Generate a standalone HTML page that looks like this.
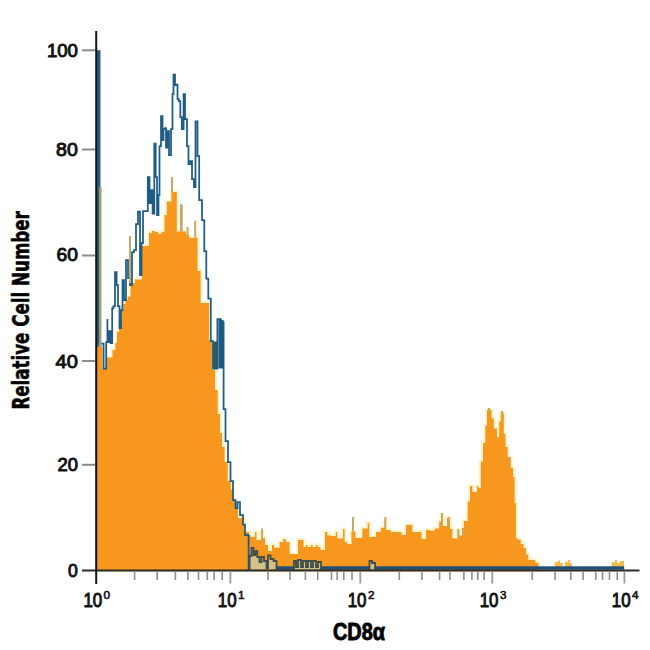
<!DOCTYPE html>
<html><head><meta charset="utf-8"><title>CD8a flow cytometry histogram</title>
<style>html,body{margin:0;padding:0;background:#fff;width:650px;height:650px;overflow:hidden}svg{display:block}</style>
</head><body>
<svg width="650" height="650" viewBox="0 0 650 650">
<rect width="650" height="650" fill="#ffffff"/>
<path d="M97,570.5 L97,347 L102.3,347 L102.3,369 L107,369 L107,357.5 L112.5,357.5 L112.5,350 L115.4,350 L115.4,343 L117,343 L117,332 L119,332 L119,322 L121.5,322 L121.5,310 L123.5,310 L123.5,304 L125.4,304 L125.4,300 L127.7,300 L127.7,296.6 L130.5,296.6 L130.5,283 L135,283 L135,279.5 L142,279.5 L142,246 L149,246 L149,233 L152,233 L152,231 L155,231 L155,232 L158,232 L158,234 L161.4,234 L161.4,232 L164.5,232 L164.5,215 L166.8,215 L166.8,201.5 L171.4,201.5 L171.4,192 L172.6,192 L172.6,192 L176.8,192 L176.8,231.5 L179,231.5 L179,231.5 L183,231.5 L183,231.5 L186,231.5 L186,235 L189,235 L189,238 L193.7,238 L193.7,238 L197.5,238 L197.5,271 L200.6,271 L200.6,303 L209,303 L209,340 L212,340 L212,370 L215,370 L215,390 L217.7,390 L217.7,414 L220,414 L220,433 L222,433 L222,447 L224.6,447 L224.6,462 L227.7,462 L227.7,481 L230.8,481 L230.8,490 L233,490 L233,500 L235.5,500 L235.5,508 L238,508 L238,518 L244,518 L244,532 L249,532 L249,535 L250.4,535 L250.4,537 L255,537 L255,532 L256.5,532 L256.5,540 L261,540 L261,533 L263,533 L263,538 L265,538 L265,545 L268,545 L268,551 L272,551 L272,545 L274,545 L274,547.7 L279.6,547.7 L279.6,542 L283.5,542 L283.5,539 L285.8,539 L285.8,542 L289.6,542 L289.6,554 L298,554 L298,540 L303.5,540 L303.5,547 L306,547 L306,545 L307.5,545 L307.5,547 L311,547 L311,545 L312.5,545 L312.5,547 L316,547 L316,545 L317.5,545 L317.5,547 L320.4,547 L320.4,550 L325,550 L325,532 L327.3,532 L327.3,535.4 L331,535.4 L331,536 L335.8,536 L335.8,532 L337.3,532 L337.3,538.5 L343,538.5 L343,529 L344.6,529 L344.6,542 L347,542 L347,544 L351.5,544 L351.5,531.5 L355.4,531.5 L355.4,538 L362.3,538 L362.3,528.5 L367.7,528.5 L367.7,523 L369.2,523 L369.2,537 L376,537 L376,532 L380.8,532 L380.8,527.7 L384.6,527.7 L384.6,520 L386,520 L386,530 L390.8,530 L390.8,532 L401.5,532 L401.5,535 L406,535 L406,525 L412.3,525 L412.3,532 L421.5,532 L421.5,539 L426,539 L426,530 L430,530 L430,530.8 L434.6,530.8 L434.6,528.5 L439.2,528.5 L439.2,521.5 L441,521.5 L441,515 L443,515 L443,526 L447,526 L447,518 L450,518 L450,529 L452.3,529 L452.3,538.5 L457.7,538.5 L457.7,530 L459,530 L459,535.4 L462.3,535.4 L462.3,529 L463.8,529 L463.8,521 L467.7,521 L467.7,501.5 L470,501.5 L470,486 L472.3,486 L472.3,492 L477,492 L477,486 L478.5,486 L478.5,488 L480.8,488 L480.8,461.5 L483,461.5 L483,443 L485.4,443 L485.4,425.4 L487,425.4 L487,410 L491.5,410 L491.5,418.5 L493.8,418.5 L493.8,428.5 L497,428.5 L497,437 L499.2,437 L499.2,421.5 L500.8,421.5 L500.8,413 L503.8,413 L503.8,434 L505.4,434 L505.4,447 L507.7,447 L507.7,457 L510.8,457 L510.8,467.7 L513,467.7 L513,477 L514.6,477 L514.6,503 L516,503 L516,538.5 L518.5,538.5 L518.5,540 L520.8,540 L520.8,544 L523.5,544 L523.5,548 L526,548 L526,554.4 L528.3,554.4 L528.3,560 L535.3,560 L535.3,563 L538.5,563 L538.5,570.5 Z" fill="#FFF3C8" stroke="#FFF3C8" stroke-width="3.6" stroke-linejoin="miter"/>
<path d="M97,570.5 L97,347 L102.3,347 L102.3,369 L107,369 L107,357.5 L112.5,357.5 L112.5,350 L115.4,350 L115.4,343 L117,343 L117,332 L119,332 L119,322 L121.5,322 L121.5,310 L123.5,310 L123.5,304 L125.4,304 L125.4,300 L127.7,300 L127.7,296.6 L130.5,296.6 L130.5,283 L135,283 L135,279.5 L142,279.5 L142,246 L149,246 L149,233 L152,233 L152,231 L155,231 L155,232 L158,232 L158,234 L161.4,234 L161.4,232 L164.5,232 L164.5,215 L166.8,215 L166.8,201.5 L171.4,201.5 L171.4,192 L172.6,192 L172.6,192 L176.8,192 L176.8,231.5 L179,231.5 L179,231.5 L183,231.5 L183,231.5 L186,231.5 L186,235 L189,235 L189,238 L193.7,238 L193.7,238 L197.5,238 L197.5,271 L200.6,271 L200.6,303 L209,303 L209,340 L212,340 L212,370 L215,370 L215,390 L217.7,390 L217.7,414 L220,414 L220,433 L222,433 L222,447 L224.6,447 L224.6,462 L227.7,462 L227.7,481 L230.8,481 L230.8,490 L233,490 L233,500 L235.5,500 L235.5,508 L238,508 L238,518 L244,518 L244,532 L249,532 L249,535 L250.4,535 L250.4,537 L255,537 L255,532 L256.5,532 L256.5,540 L261,540 L261,533 L263,533 L263,538 L265,538 L265,545 L268,545 L268,551 L272,551 L272,545 L274,545 L274,547.7 L279.6,547.7 L279.6,542 L283.5,542 L283.5,539 L285.8,539 L285.8,542 L289.6,542 L289.6,554 L298,554 L298,540 L303.5,540 L303.5,547 L306,547 L306,545 L307.5,545 L307.5,547 L311,547 L311,545 L312.5,545 L312.5,547 L316,547 L316,545 L317.5,545 L317.5,547 L320.4,547 L320.4,550 L325,550 L325,532 L327.3,532 L327.3,535.4 L331,535.4 L331,536 L335.8,536 L335.8,532 L337.3,532 L337.3,538.5 L343,538.5 L343,529 L344.6,529 L344.6,542 L347,542 L347,544 L351.5,544 L351.5,531.5 L355.4,531.5 L355.4,538 L362.3,538 L362.3,528.5 L367.7,528.5 L367.7,523 L369.2,523 L369.2,537 L376,537 L376,532 L380.8,532 L380.8,527.7 L384.6,527.7 L384.6,520 L386,520 L386,530 L390.8,530 L390.8,532 L401.5,532 L401.5,535 L406,535 L406,525 L412.3,525 L412.3,532 L421.5,532 L421.5,539 L426,539 L426,530 L430,530 L430,530.8 L434.6,530.8 L434.6,528.5 L439.2,528.5 L439.2,521.5 L441,521.5 L441,515 L443,515 L443,526 L447,526 L447,518 L450,518 L450,529 L452.3,529 L452.3,538.5 L457.7,538.5 L457.7,530 L459,530 L459,535.4 L462.3,535.4 L462.3,529 L463.8,529 L463.8,521 L467.7,521 L467.7,501.5 L470,501.5 L470,486 L472.3,486 L472.3,492 L477,492 L477,486 L478.5,486 L478.5,488 L480.8,488 L480.8,461.5 L483,461.5 L483,443 L485.4,443 L485.4,425.4 L487,425.4 L487,410 L491.5,410 L491.5,418.5 L493.8,418.5 L493.8,428.5 L497,428.5 L497,437 L499.2,437 L499.2,421.5 L500.8,421.5 L500.8,413 L503.8,413 L503.8,434 L505.4,434 L505.4,447 L507.7,447 L507.7,457 L510.8,457 L510.8,467.7 L513,467.7 L513,477 L514.6,477 L514.6,503 L516,503 L516,538.5 L518.5,538.5 L518.5,540 L520.8,540 L520.8,544 L523.5,544 L523.5,548 L526,548 L526,554.4 L528.3,554.4 L528.3,560 L535.3,560 L535.3,563 L538.5,563 L538.5,570.5 Z" fill="#F7971E"/>
<rect x="554.7" y="562" width="3.2999999999999545" height="6" fill="#F5B94A"/>
<rect x="558" y="560.5" width="2" height="7.5" fill="#F5B94A"/>
<rect x="560" y="563" width="2.7000000000000455" height="5" fill="#F5B94A"/>
<rect x="565" y="562" width="3" height="6" fill="#F5B94A"/>
<rect x="568" y="560" width="2" height="8" fill="#F5B94A"/>
<rect x="570" y="563" width="2" height="5" fill="#F5B94A"/>
<rect x="611.7" y="562" width="3.2999999999999545" height="6" fill="#F5B94A"/>
<rect x="615" y="560" width="2" height="8" fill="#F5B94A"/>
<rect x="617" y="563" width="3" height="5" fill="#F5B94A"/>
<rect x="620" y="561" width="4" height="7" fill="#F5B94A"/>
<path d="M97.9,347 L97.9,51.2 L97.9,51.2 L99.6,51.2 L99.6,343.5 L103.6,343.5 L103.6,368.5 L106.2,368.5 L106.2,342 L107.4,342 L107.4,319 L107.4,319 L107.4,342 L109,342 L109,331 L110.6,331 L110.6,343 L112.2,343 L112.2,308 L113.4,308 L113.4,306 L115,306 L115,272 L116.6,272 L116.6,285 L118,285 L118,306 L119.5,306 L119.5,328 L121,328 L121,310 L122.5,310 L122.5,280 L124,280 L124,300 L126,300 L126,260 L128,260 L128,278 L130,278 L130,285 L132,285 L132,252 L134,252 L134,250 L136,250 L136,224 L138,224 L138,211.5 L140,211.5 L140,275 L141.5,275 L141.5,243 L143,243 L143,211 L145,211 L145,211 L147.8,211 L147.8,177 L149.5,177 L149.5,203 L151,203 L151,190 L152.6,190 L152.6,213.6 L154.3,213.6 L154.3,143.5 L155.7,143.5 L155.7,177 L157,177 L157,215 L158.5,215 L158.5,195 L159.5,195 L159.5,146 L161,146 L161,116 L162.5,116 L162.5,140 L163.5,140 L163.5,129 L165,129 L165,128 L166,128 L166,147.5 L167.5,147.5 L167.5,131 L169,131 L169,155 L171,155 L171,129 L172.5,129 L172.5,94 L173.5,94 L173.5,74.5 L175,74.5 L175,85 L176.5,85 L176.5,84.5 L177.5,84.5 L177.5,99 L178.8,99 L178.8,101 L180.3,101 L180.3,117 L181.8,117 L181.8,129 L183.6,129 L183.6,94 L185,94 L185,119 L187,119 L187,146 L188.5,146 L188.5,164 L190.3,164 L190.3,161 L192,161 L192,179 L194,179 L194,187 L195.5,187 L195.5,121.4 L197.5,121.4 L197.5,156 L199.2,156 L199.2,200 L202,200 L202,220 L204.3,220 L204.3,251 L206.3,251 L206.3,278.5 L208.3,278.5 L208.3,298.5 L210.8,298.5 L210.8,341 L213,341 L213,368.5 L217.4,368.5 L217.4,319 L220.8,319 L220.8,322 L223.6,322 L223.6,409 L225.5,409 L225.5,441 L228,441 L228,462 L230.5,462 L230.5,481 L233,481 L233,500 L235.5,500 L235.5,508 L237.5,508 L237.5,502 L240,502 L240,515 L243,515 L243,524.6 L245,524.6 L245,535 L248.6,535 L248.6,569 L249.4,569 " fill="none" stroke="#1D5C86" stroke-width="1.75" stroke-linejoin="miter"/>
<rect x="274" y="566.3" width="350.2" height="3.4" fill="#1F4E78"/>
<path d="M249.6,569.5 L249.6,556 L251.5,556 L251.5,548 L253.5,548 L253.5,555 L255.4,555 L255.4,551 L257.3,551 L257.3,557 L259.5,557 L259.5,562 L261.5,562 L261.5,557 L264,557 L264,561 L266.5,561 L266.5,568 L268,568 L268,555.5 L270.5,555.5 L270.5,559 L273.5,559 L273.5,561 L276.5,561 L276.5,569.5 Z" fill="#D3C08C"/>
<path d="M249.6,569.5 L249.6,556 L251.5,556 L251.5,548 L253.5,548 L253.5,555 L255.4,555 L255.4,551 L257.3,551 L257.3,557 L259.5,557 L259.5,562 L261.5,562 L261.5,557 L264,557 L264,561 L266.5,561 L266.5,568 L268,568 L268,555.5 L270.5,555.5 L270.5,559 L273.5,559 L273.5,561 L276.5,561 L276.5,569.5" fill="none" stroke="#3E4F4A" stroke-width="1.8"/>
<path d="M294,569.5 L294,561 L296,561 L296,567 L298,567 L298,560 L301,560 L301,567 L303,567 L303,561 L306,561 L306,567 L308,567 L308,561 L311,561 L311,567 L313,567 L313,561 L316,561 L316,567 L318,567 L318,562 L321,562 L321,569.5 Z" fill="#D3C08C"/>
<path d="M294,569.5 L294,561 L296,561 L296,567 L298,567 L298,560 L301,560 L301,567 L303,567 L303,561 L306,561 L306,567 L308,567 L308,561 L311,561 L311,567 L313,567 L313,561 L316,561 L316,567 L318,567 L318,562 L321,562 L321,569.5" fill="none" stroke="#3E4F4A" stroke-width="1.8"/>
<path d="M369.5,569.5 L369.5,561 L372,561 L372,563 L375,563 L375,569.5 Z" fill="#D3C08C"/>
<path d="M369.5,569.5 L369.5,561 L372,561 L372,563 L375,563 L375,569.5" fill="none" stroke="#3E4F4A" stroke-width="1.8"/>
<rect x="213" y="341.5" width="4.4" height="27" fill="#2C5966"/>
<rect x="218.4" y="320" width="5.2" height="48.5" fill="#1D5A80"/>
<line x1="172" y1="177" x2="172" y2="192" stroke="#C8A867" stroke-width="2"/>
<line x1="181" y1="204.6" x2="181" y2="231.5" stroke="#C8A867" stroke-width="2"/>
<line x1="181.8" y1="204.6" x2="181.8" y2="231.5" stroke="#C8A867" stroke-width="2"/>
<line x1="187.6" y1="227" x2="187.6" y2="235" stroke="#C8A867" stroke-width="2"/>
<line x1="195.2" y1="220.8" x2="195.2" y2="238" stroke="#C8A867" stroke-width="2"/>
<line x1="130" y1="236" x2="130" y2="283" stroke="#C8A867" stroke-width="2"/>
<line x1="262" y1="528.5" x2="262" y2="540" stroke="#C8A867" stroke-width="2"/>
<line x1="284.5" y1="539" x2="284.5" y2="542" stroke="#C8A867" stroke-width="2"/>
<line x1="353" y1="517" x2="353" y2="531.5" stroke="#C8A867" stroke-width="2"/>
<line x1="385.3" y1="517" x2="385.3" y2="527.7" stroke="#C8A867" stroke-width="2"/>
<line x1="442" y1="513" x2="442" y2="526" stroke="#C8A867" stroke-width="2"/>
<line x1="448.5" y1="517" x2="448.5" y2="526" stroke="#C8A867" stroke-width="2"/>
<line x1="458.4" y1="529" x2="458.4" y2="538.5" stroke="#C8A867" stroke-width="2"/>
<line x1="463" y1="528" x2="463" y2="535" stroke="#C8A867" stroke-width="2"/>
<line x1="489" y1="408" x2="489" y2="412" stroke="#C8A867" stroke-width="2"/>
<line x1="502" y1="411" x2="502" y2="415" stroke="#C8A867" stroke-width="2"/>
<line x1="509.2" y1="457" x2="509.2" y2="460" stroke="#C8A867" stroke-width="2"/>
<line x1="100.3" y1="187" x2="100.3" y2="347" stroke="#A89E70" stroke-width="2.4"/>
<line x1="82" y1="570.5" x2="639.5" y2="570.5" stroke="#2a2a2a" stroke-width="2"/>
<line x1="96.2" y1="31" x2="96.2" y2="584" stroke="#111" stroke-width="2"/>
<line x1="82" y1="50.3" x2="95" y2="50.3" stroke="#8a8a8a" stroke-width="2"/>
<line x1="82" y1="149.5" x2="95" y2="149.5" stroke="#8a8a8a" stroke-width="2"/>
<line x1="82" y1="255.5" x2="95" y2="255.5" stroke="#8a8a8a" stroke-width="2"/>
<line x1="82" y1="361" x2="95" y2="361" stroke="#8a8a8a" stroke-width="2"/>
<line x1="82" y1="464.8" x2="95" y2="464.8" stroke="#8a8a8a" stroke-width="2"/>
<line x1="134.6" y1="571.5" x2="134.6" y2="580" stroke="#8e8e8e" stroke-width="1.6"/>
<line x1="157.2" y1="571.5" x2="157.2" y2="580" stroke="#8e8e8e" stroke-width="1.6"/>
<line x1="175.4" y1="571.5" x2="175.4" y2="580" stroke="#8e8e8e" stroke-width="1.6"/>
<line x1="187.8" y1="571.5" x2="187.8" y2="580" stroke="#8e8e8e" stroke-width="1.6"/>
<line x1="198.5" y1="571.5" x2="198.5" y2="580" stroke="#8e8e8e" stroke-width="1.6"/>
<line x1="207.3" y1="571.5" x2="207.3" y2="580" stroke="#8e8e8e" stroke-width="1.6"/>
<line x1="214.2" y1="571.5" x2="214.2" y2="580" stroke="#8e8e8e" stroke-width="1.6"/>
<line x1="222.2" y1="571.5" x2="222.2" y2="580" stroke="#8e8e8e" stroke-width="1.6"/>
<line x1="268" y1="571.5" x2="268" y2="580" stroke="#8e8e8e" stroke-width="1.6"/>
<line x1="290" y1="571.5" x2="290" y2="580" stroke="#8e8e8e" stroke-width="1.6"/>
<line x1="305.4" y1="571.5" x2="305.4" y2="580" stroke="#8e8e8e" stroke-width="1.6"/>
<line x1="317.7" y1="571.5" x2="317.7" y2="580" stroke="#8e8e8e" stroke-width="1.6"/>
<line x1="331.5" y1="571.5" x2="331.5" y2="580" stroke="#8e8e8e" stroke-width="1.6"/>
<line x1="337.2" y1="571.5" x2="337.2" y2="580" stroke="#8e8e8e" stroke-width="1.6"/>
<line x1="343.8" y1="571.5" x2="343.8" y2="580" stroke="#8e8e8e" stroke-width="1.6"/>
<line x1="352" y1="571.5" x2="352" y2="580" stroke="#8e8e8e" stroke-width="1.6"/>
<line x1="399.3" y1="571.5" x2="399.3" y2="580" stroke="#8e8e8e" stroke-width="1.6"/>
<line x1="421.9" y1="571.5" x2="421.9" y2="580" stroke="#8e8e8e" stroke-width="1.6"/>
<line x1="439.6" y1="571.5" x2="439.6" y2="580" stroke="#8e8e8e" stroke-width="1.6"/>
<line x1="449.9" y1="571.5" x2="449.9" y2="580" stroke="#8e8e8e" stroke-width="1.6"/>
<line x1="463.9" y1="571.5" x2="463.9" y2="580" stroke="#8e8e8e" stroke-width="1.6"/>
<line x1="471.9" y1="571.5" x2="471.9" y2="580" stroke="#8e8e8e" stroke-width="1.6"/>
<line x1="477.8" y1="571.5" x2="477.8" y2="580" stroke="#8e8e8e" stroke-width="1.6"/>
<line x1="484.2" y1="571.5" x2="484.2" y2="580" stroke="#8e8e8e" stroke-width="1.6"/>
<line x1="532.3" y1="571.5" x2="532.3" y2="580" stroke="#8e8e8e" stroke-width="1.6"/>
<line x1="555.1" y1="571.5" x2="555.1" y2="580" stroke="#8e8e8e" stroke-width="1.6"/>
<line x1="570.8" y1="571.5" x2="570.8" y2="580" stroke="#8e8e8e" stroke-width="1.6"/>
<line x1="583.1" y1="571.5" x2="583.1" y2="580" stroke="#8e8e8e" stroke-width="1.6"/>
<line x1="595.7" y1="571.5" x2="595.7" y2="580" stroke="#8e8e8e" stroke-width="1.6"/>
<line x1="602.5" y1="571.5" x2="602.5" y2="580" stroke="#8e8e8e" stroke-width="1.6"/>
<line x1="609.5" y1="571.5" x2="609.5" y2="580" stroke="#8e8e8e" stroke-width="1.6"/>
<line x1="617.2" y1="571.5" x2="617.2" y2="580" stroke="#8e8e8e" stroke-width="1.6"/>
<line x1="230.4" y1="571.5" x2="230.4" y2="583.5" stroke="#9a9a9a" stroke-width="1.8"/>
<line x1="360.3" y1="571.5" x2="360.3" y2="583.5" stroke="#9a9a9a" stroke-width="1.8"/>
<line x1="492.3" y1="571.5" x2="492.3" y2="583.5" stroke="#9a9a9a" stroke-width="1.8"/>
<line x1="624.4" y1="571.5" x2="624.4" y2="583.5" stroke="#9a9a9a" stroke-width="1.8"/>
<text x="77.9" y="56.9" font-family="Liberation Sans, Arial, sans-serif" font-size="18.7" textLength="31" lengthAdjust="spacingAndGlyphs" text-anchor="end" fill="#111" stroke="#111" stroke-width="0.95">100</text>
<text x="77.9" y="155.6" font-family="Liberation Sans, Arial, sans-serif" font-size="18.7" textLength="21.8" lengthAdjust="spacingAndGlyphs" text-anchor="end" fill="#111" stroke="#111" stroke-width="0.95">80</text>
<text x="77.9" y="261.3" font-family="Liberation Sans, Arial, sans-serif" font-size="18.7" textLength="21.4" lengthAdjust="spacingAndGlyphs" text-anchor="end" fill="#111" stroke="#111" stroke-width="0.95">60</text>
<text x="77.9" y="368.1" font-family="Liberation Sans, Arial, sans-serif" font-size="18.7" textLength="22.3" lengthAdjust="spacingAndGlyphs" text-anchor="end" fill="#111" stroke="#111" stroke-width="0.95">40</text>
<text x="77.9" y="470.9" font-family="Liberation Sans, Arial, sans-serif" font-size="18.7" textLength="20.5" lengthAdjust="spacingAndGlyphs" text-anchor="end" fill="#111" stroke="#111" stroke-width="0.95">20</text>
<text x="77.9" y="576.7" font-family="Liberation Sans, Arial, sans-serif" font-size="18.7" textLength="9.8" lengthAdjust="spacingAndGlyphs" text-anchor="end" fill="#111" stroke="#111" stroke-width="0.95">0</text>
<text x="83.4" y="606.6" font-family="Liberation Sans, Arial, sans-serif" font-size="19.5" textLength="18.8" lengthAdjust="spacingAndGlyphs" fill="#111" stroke="#111" stroke-width="0.95">10</text>
<text x="103.6" y="599.3" font-family="Liberation Sans, Arial, sans-serif" font-size="11.7" fill="#111" stroke="#111" stroke-width="0.6">0</text>
<text x="217.8" y="606.6" font-family="Liberation Sans, Arial, sans-serif" font-size="19.5" textLength="18.8" lengthAdjust="spacingAndGlyphs" fill="#111" stroke="#111" stroke-width="0.95">10</text>
<text x="238.0" y="599.3" font-family="Liberation Sans, Arial, sans-serif" font-size="11.7" fill="#111" stroke="#111" stroke-width="0.6">1</text>
<text x="347.7" y="606.6" font-family="Liberation Sans, Arial, sans-serif" font-size="19.5" textLength="18.8" lengthAdjust="spacingAndGlyphs" fill="#111" stroke="#111" stroke-width="0.95">10</text>
<text x="367.90000000000003" y="599.3" font-family="Liberation Sans, Arial, sans-serif" font-size="11.7" fill="#111" stroke="#111" stroke-width="0.6">2</text>
<text x="479.7" y="606.6" font-family="Liberation Sans, Arial, sans-serif" font-size="19.5" textLength="18.8" lengthAdjust="spacingAndGlyphs" fill="#111" stroke="#111" stroke-width="0.95">10</text>
<text x="499.90000000000003" y="599.3" font-family="Liberation Sans, Arial, sans-serif" font-size="11.7" fill="#111" stroke="#111" stroke-width="0.6">3</text>
<text x="611.8" y="606.6" font-family="Liberation Sans, Arial, sans-serif" font-size="19.5" textLength="18.8" lengthAdjust="spacingAndGlyphs" fill="#111" stroke="#111" stroke-width="0.95">10</text>
<text x="632.0" y="599.3" font-family="Liberation Sans, Arial, sans-serif" font-size="11.7" fill="#111" stroke="#111" stroke-width="0.6">4</text>
<text x="333" y="640.4" font-family="Liberation Sans, Arial, sans-serif" font-weight="bold" font-size="23" textLength="52" lengthAdjust="spacingAndGlyphs" fill="#000" stroke="#000" stroke-width="0.9">CD8α</text>
<text transform="translate(28.5,409.6) rotate(-90)" x="0" y="0" font-family="DejaVu Sans Condensed, Liberation Sans, sans-serif" font-weight="bold" font-size="22.5" textLength="198.4" lengthAdjust="spacingAndGlyphs" fill="#000" stroke="#000" stroke-width="0.5">Relative Cell Number</text>
</svg>
</body></html>
